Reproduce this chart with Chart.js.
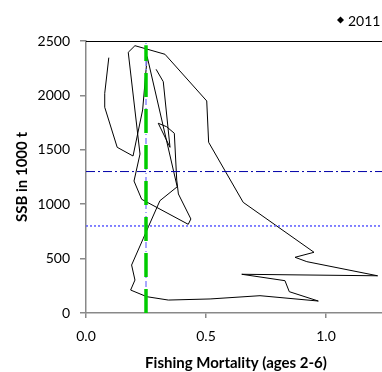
<!DOCTYPE html>
<html>
<head>
<meta charset="utf-8">
<script src="https://cdn.jsdelivr.net/npm/chart.js@4"></script>
<style>
  html, body { margin: 0; padding: 0; background: #fff; overflow: hidden; }
  #wrap { width: 400px; height: 372px; }
</style>
</head>
<body>
<div id="wrap"><canvas id="chart" width="400" height="372"></canvas></div>
<script>
// Fishing mortality (ages 2-6) and SSB (1000 t), path in time order
const fishingMortality = [0.292, 0.322, 0.350, 0.301, 0.336, 0.368, 0.378, 0.385, 0.437, 0.426,
    0.232, 0.200, 0.225, 0.176, 0.204, 0.329, 0.503, 0.511, 0.655, 0.950,
    0.871, 0.920, 1.215, 0.649, 0.829, 0.847, 0.968, 0.725, 0.517, 0.343,
    0.253, 0.186, 0.204, 0.190, 0.239, 0.260, 0.308, 0.380, 0.255, 0.236,
    0.196, 0.130, 0.078, 0.078, 0.095];
const ssb = [2240, 2126, 1523, 1744, 1712, 1652, 1222, 1094, 864, 815,
    1045, 1213, 1461, 2396, 2457, 2378, 1949, 1569, 1017, 558,
    512, 472, 342, 356, 297, 196, 110, 159, 129, 119,
    150, 211, 303, 441, 687, 793, 1032, 1160, 2356, 1866,
    1443, 1523, 1891, 2019, 2347];

// Reference points
const Bpa = 1300;
const Blim = 800;
const Fref = 0.25;
const FrefTop = 2460;
const xTicks = [0.0, 0.5, 1.0];
const yTicks = [0, 500, 1000, 1500, 2000, 2500];
const lastYear = '2011';

const path = fishingMortality.map((f, i) => ({ x: f, y: ssb[i] }));

// Excel-like frame: black top border and small legend entry
const framePlugin = {
    id: 'frame',
    afterDraw(chart) {
        const ctx = chart.ctx;
        const a = chart.chartArea;
        ctx.save();
        ctx.strokeStyle = '#000';
        ctx.lineWidth = 1;
        ctx.beginPath();
        ctx.moveTo(a.left, a.top + 0.5);
        ctx.lineTo(a.right, a.top + 0.5);
        ctx.stroke();

        // legend
        ctx.fillStyle = '#000';
        ctx.beginPath();
        ctx.moveTo(340.5, 16.5);
        ctx.lineTo(344, 20);
        ctx.lineTo(340.5, 23.5);
        ctx.lineTo(337, 20);
        ctx.closePath();
        ctx.fill();
        ctx.font = '14px Lato';
        ctx.textBaseline = 'middle';
        ctx.fillText(lastYear, 348, 21);
        ctx.restore();
    }
};

new Chart(document.getElementById('chart'), {
    type: 'scatter',
    data: {
        datasets: [
            {
                label: 'Fref',
                data: [{ x: Fref, y: 0 }, { x: Fref, y: FrefTop }],
                showLine: true,
                borderColor: '#00cc00',
                borderWidth: 3.5,
                borderDash: [24, 12],
                pointRadius: 0,
                order: 1
            },
            {
                label: 'Fpa',
                data: [{ x: Fref, y: 0 }, { x: Fref, y: 2500 }],
                showLine: true,
                borderColor: '#8a8aff',
                borderWidth: 1.5,
                borderDash: [6, 3, 1, 3],
                pointRadius: 0,
                order: 2
            },
            {
                label: 'Bpa',
                data: [{ x: 0, y: Bpa }, { x: 1.25, y: Bpa }],
                showLine: true,
                borderColor: '#0000a8',
                borderWidth: 1,
                borderDash: [9, 3, 2, 3],
                pointRadius: 0,
                order: 3
            },
            {
                label: 'Blim',
                data: [{ x: 0, y: Blim }, { x: 1.25, y: Blim }],
                showLine: true,
                borderColor: '#5a5aff',
                borderWidth: 1.5,
                borderDash: [2, 2],
                pointRadius: 0,
                order: 4
            },
            {
                label: 'SSB vs F',
                data: path,
                showLine: true,
                borderColor: '#000',
                borderWidth: 1,
                pointRadius: 0,
                order: 5
            }
        ]
    },
    options: {
        responsive: false,
        animation: false,
        layout: { padding: { left: 0, top: 41, right: 14, bottom: 0 } },
        plugins: { legend: { display: false }, tooltip: { enabled: false } },
        scales: {
            x: {
                type: 'linear',
                min: 0,
                max: 1.25,
                afterFit: s => { s.height = 59; },
                afterBuildTicks: s => { s.ticks = xTicks.map(v => ({ value: v })); },
                grid: { drawOnChartArea: false, tickLength: 5, color: '#898989', lineWidth: 1.5 },
                border: { color: '#898989', width: 1.5 },
                ticks: {
                    padding: 10,
                    color: '#000',
                    font: { family: 'Lato', size: 14 },
                    callback: v => v.toFixed(1)
                },
                title: {
                    display: true,
                    text: 'Fishing Mortality (ages 2-6)',
                    color: '#000',
                    font: { family: 'Lato', size: 15, weight: 'bold' },
                    padding: { top: 0, bottom: 0 }
                }
            },
            y: {
                type: 'linear',
                min: 0,
                max: 2500,
                afterFit: s => { s.width = 86; },
                afterBuildTicks: s => { s.ticks = yTicks.map(v => ({ value: v })); },
                grid: { drawOnChartArea: false, tickLength: 6, color: '#898989', lineWidth: 1.5 },
                border: { color: '#898989', width: 1.5 },
                ticks: {
                    padding: 10,
                    color: '#000',
                    font: { family: 'Lato', size: 14 },
                    callback: v => String(v)
                },
                title: {
                    display: true,
                    text: 'SSB in 1000 t',
                    color: '#000',
                    font: { family: 'Lato', size: 15, weight: 'bold' },
                    padding: { top: 13, bottom: 0 }
                }
            }
        }
    },
    plugins: [framePlugin]
});
</script>
</body>
</html>
